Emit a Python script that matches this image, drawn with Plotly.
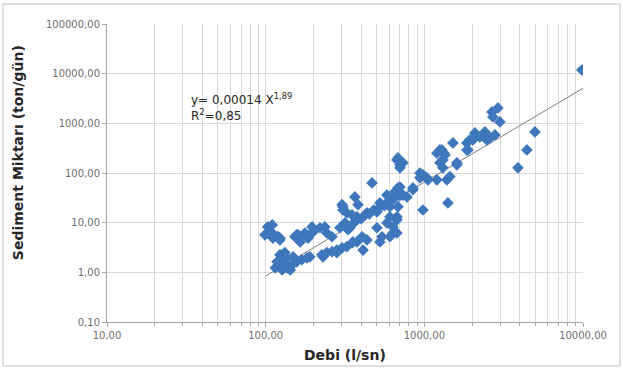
import plotly.graph_objects as go

# ---- data ----
debi = [
    103, 110, 110, 99, 103, 118, 120, 111, 123, 123,
    127, 132, 136, 120, 118, 138, 123, 127, 136, 147,
    149, 153, 157, 157, 165, 160, 165, 169, 182, 177,
    185, 190, 196, 199, 132, 123, 129, 115, 143,
    220, 236, 243, 262, 226, 243, 262, 281, 303, 325,
    350, 376, 230, 281, 294, 316, 330, 307, 325, 350,
    382, 365, 303, 307, 325, 340, 376, 435, 503, 525,
    581, 653, 702, 777, 848, 468, 672, 702, 682, 733,
    702, 682, 607, 634, 672, 525, 607, 411, 682, 733,
    848, 607, 672, 581, 503, 541, 435, 405, 355, 634,
    672, 376,
    330, 360, 400, 420, 450, 480, 520, 560, 600, 640, 700,
    938, 1038, 1200, 1254, 1309, 1408, 980, 1387, 1200, 1330,
    1514, 1604, 1854, 2024, 2666, 2910, 2994, 2705, 2084, 2240,
    2409, 2479, 2590, 2784, 1937, 1854, 1882, 1291, 1349, 1254,
    1604, 1309, 980, 1054, 938, 1450, 3890, 4430, 4980, 9840,
]
sediment = [
    8.2, 9.0, 6.2, 5.7, 6.2, 5.2, 5.2, 4.9, 4.5, 2.25,
    2.25, 1.96, 1.96, 1.63, 1.63, 1.29, 1.29, 1.12, 1.23, 1.42,
    2.05, 5.2, 1.63, 5.7, 5.2, 5.7, 4.1, 1.79, 1.96, 6.2,
    4.9, 2.05, 8.2, 6.5, 2.5, 4.9, 1.35, 1.23, 1.12,
    7.9, 8.2, 6.2, 5.2, 2.25, 2.5, 2.6, 2.8, 3.1, 3.3,
    3.9, 4.1, 2.05, 2.5, 7.9, 9.9, 7.2, 21, 15.7, 14.4,
    23, 33, 23, 18, 9.0, 7.9, 11.4, 15.7, 16.5, 25,
    36, 42, 52, 33, 46, 63, 183, 146, 201, 160,
    127, 21, 13.1, 8.2, 6.2, 4.1, 5.2, 2.8, 50, 36,
    50, 21, 13.1, 9.9, 7.9, 5.2, 4.5, 5.2, 4.1, 6.2,
    11.4, 13.1,
    8, 10, 12, 14, 15, 18, 20, 22, 28, 30, 35,
    100, 80, 73, 292, 183, 25, 18, 73, 250, 250,
    403, 160, 292, 463, 1695, 2040, 1067, 1345, 641, 532,
    671, 463, 508, 585, 463, 403, 292, 292, 231, 160,
    146, 127, 92, 73, 80, 85, 127, 292, 671, 11860,
]

# trendline (power fit shown on chart)
trend_a = 0.00014
trend_b = 1.89
trend_x = [100, 10000]
trend_y = [trend_a * x ** trend_b for x in trend_x]

x_tickvals = [10, 100, 1000, 10000]
x_ticktext = ["10,00", "100,00", "1000,00", "10000,00"]
y_tickvals = [0.1, 1, 10, 100, 1000, 10000, 100000]
y_ticktext = ["0,10", "1,00", "10,00", "100,00", "1000,00", "10000,00", "100000,00"]

x_minor = [d * k for d in (10, 100, 1000) for k in range(2, 10)]

FONT = "DejaVu Sans"
GRID = "#D9D9D9"
TICKC = "#6E6E6E"

fig = go.Figure()
fig.add_trace(go.Scatter(
    x=trend_x, y=trend_y, mode="lines",
    line=dict(color="#7F7F7F", width=1), hoverinfo="skip", showlegend=False,
))
fig.add_trace(go.Scatter(
    x=debi, y=sediment, mode="markers",
    marker=dict(symbol="diamond", size=9, color="#3F77BC", line=dict(width=0)),
    showlegend=False,
))

fig.update_layout(
    width=623, height=371,
    margin=dict(l=107, r=40, t=24, b=49),
    paper_bgcolor="white", plot_bgcolor="white",
    font=dict(family=FONT, size=10, color=TICKC),
    xaxis=dict(
        type="log", range=[1, 4],
        tickvals=x_tickvals, ticktext=x_ticktext,
        showgrid=True, gridcolor=GRID, gridwidth=1,
        minor=dict(tickvals=x_minor, showgrid=True, gridcolor=GRID, gridwidth=1,
                   ticks="outside", ticklen=3, tickcolor="#A6A6A6"),
        ticks="outside", ticklen=4, tickcolor="#A6A6A6",
        showline=True, linecolor="#A6A6A6", linewidth=1,
        tickfont=dict(family=FONT, size=10, color=TICKC),
        zeroline=False,
    ),
    yaxis=dict(
        type="log", range=[-1, 5],
        tickvals=y_tickvals, ticktext=y_ticktext,
        showgrid=True, gridcolor=GRID, gridwidth=1,
        ticks="outside", ticklen=4, tickcolor="#A6A6A6",
        showline=True, linecolor="#A6A6A6", linewidth=1,
        tickfont=dict(family=FONT, size=10, color=TICKC),
        zeroline=False,
    ),
    shapes=[
        dict(type="rect", xref="paper", yref="paper",
             x0=0.143, x1=0.389, y0=0.644, y1=0.805,
             fillcolor="white", line=dict(width=0), layer="between"),
        dict(type="rect", xref="paper", yref="paper",
             x0=-0.2185, x1=1.0777, y0=-0.1477, y1=1.067,
             fillcolor="rgba(0,0,0,0)", line=dict(color="#BFBFBF", width=1)),
    ],
    annotations=[
        dict(xref="paper", yref="paper", x=0.172, y=0.72,
             xanchor="left", yanchor="middle", align="left", showarrow=False,
             text="y= 0,00014 X<sup>1,89</sup><br>R<sup>2</sup>=0,85",
             font=dict(family=FONT, size=12, color="#262626")),
        dict(xref="paper", yref="paper", x=0.5, y=-0.111,
             xanchor="center", yanchor="middle", showarrow=False,
             text="<b>Debi (l/sn)</b>",
             font=dict(family=FONT, size=14, color="#262626")),
        dict(xref="paper", yref="paper", x=-0.187, y=0.57,
             xanchor="center", yanchor="middle", showarrow=False, textangle=-90,
             text="<b>Sediment Miktarı (ton/gün)</b>",
             font=dict(family=FONT, size=14, color="#262626")),
    ],
)

fig.write_html("out.html", config={"displayModeBar": False},
               post_script="document.body.style.margin='0px';")
